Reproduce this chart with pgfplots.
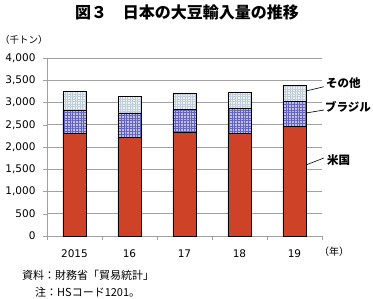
\documentclass[border=0pt]{standalone}
\usepackage{fontspec}
\usepackage{pgfplots}
\pgfplotsset{compat=1.18}
\usetikzlibrary{patterns.meta}
\setmainfont{Noto Sans CJK JP}
\newfontfamily\numfont{DejaVu Sans}
\definecolor{usred}{RGB}{206,66,40}
\definecolor{brfill}{RGB}{190,190,230}
\definecolor{brline}{RGB}{98,98,188}
\definecolor{otfill}{RGB}{236,241,244}
\definecolor{otline}{RGB}{190,205,215}
\definecolor{gridgray}{RGB}{160,160,160}

\begin{document}
\begin{tikzpicture}
\path[use as bounding box] (0,0) rectangle (373pt,299pt);
\begin{axis}[
    at={(47pt,63pt)}, anchor=south west,
    scale only axis, width=275pt, height=178pt,
    ybar stacked, bar width=23pt,
    xmin=-0.5, xmax=4.5,
    ymin=0, ymax=4000,
    ytick={0,500,...,4000},
    xtick={0,1,2,3,4},
    xticklabels={2015,16,17,18,19},
    minor xtick={-0.5,0.5,...,4.5},
    axis lines*=left,
    axis line style={draw=gridgray,-},
    ymajorgrids, grid style={draw=gridgray,line width=0.5pt},
    tick align=outside,
    major tick length=4pt, minor tick length=4pt,
    major x tick style={draw=none},
    minor x tick style={draw=gridgray},
    ytick style={draw=gridgray},
    /pgf/number format/assume math mode=true,
    /pgf/number format/1000 sep={,},
    ticklabel style={font=\numfont\fontsize{10.5}{12}\selectfont},
    xticklabel style={yshift=-6pt},
    yticklabel style={xshift=-4pt},
    clip=false,
]
\addplot[fill=usred, draw=black, line width=0.8pt]
  coordinates {(0,2310) (1,2220) (2,2335) (3,2310) (4,2460)};
\addplot[fill=brfill, draw=black, line width=0.8pt,
  postaction={pattern={Lines[angle=0,distance=2.7pt,line width=0.9pt]}, pattern color=brline},
  postaction={pattern={Lines[angle=90,distance=2.7pt,line width=0.9pt]}, pattern color=brline}]
  coordinates {(0,515) (1,545) (2,510) (3,560) (4,560)};
\addplot[fill=otfill, draw=black, line width=0.8pt,
  postaction={pattern={Lines[angle=0,distance=2.5pt,line width=0.9pt]}, pattern color=otline},
  postaction={pattern={Lines[angle=90,distance=2.5pt,line width=0.9pt]}, pattern color=otline}]
  coordinates {(0,415) (1,365) (2,370) (3,365) (4,370)};
\draw[black, line width=0.6pt] (axis cs:4.209,3258) -- (axis cs:4.536,3355);
\draw[black, line width=0.6pt] (axis cs:4.209,2764) -- (axis cs:4.536,2831);
\draw[black, line width=0.6pt] (axis cs:4.209,1596) -- (axis cs:4.536,1753);
\end{axis}
\node[font=\bfseries\fontsize{16}{18}\selectfont] at (187pt,287pt) {図３　日本の大豆輸入量の推移};
\node[font=\fontsize{9.5}{12}\selectfont, inner sep=0pt] at (24pt,259pt) {（千トン）};
\node[font=\fontsize{10}{12}\selectfont] at (334pt,47pt) {（年）};
\node[font=\bfseries\fontsize{11.5}{13}\selectfont, anchor=west, inner sep=0pt] at (326pt,216pt) {その他};
\node[font=\bfseries\fontsize{11.5}{13}\selectfont, anchor=west, inner sep=0pt] at (325pt,192pt) {ブラジル};
\node[font=\bfseries\fontsize{11.5}{13}\selectfont, anchor=west, inner sep=0pt] at (327pt,139pt) {米国};
\node[font=\fontsize{11}{13}\selectfont, anchor=west, inner sep=0pt] at (22pt,24pt) {資料：財務省「貿易統計」};
\node[font=\fontsize{11}{13}\selectfont, anchor=west, inner sep=0pt] at (35pt,7pt) {注：HSコード1201。};
\end{tikzpicture}
\end{document}
